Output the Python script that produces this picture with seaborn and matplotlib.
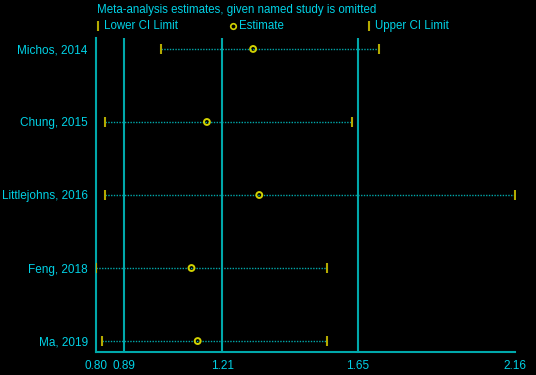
import matplotlib
matplotlib.use("Agg")
import numpy as np
import pandas as pd
import seaborn as sns
from matplotlib import pyplot as plt
from matplotlib.lines import Line2D

# DATA
studies = ["Michos, 2014", "Chung, 2015", "Littlejohns, 2016", "Feng, 2018", "Ma, 2019"]
lower = [1.01, 0.83, 0.83, 0.80, 0.82]
estimate = [1.31, 1.16, 1.33, 1.11, 1.13]
upper = [1.72, 1.63, 2.16, 1.55, 1.55]
ref_lines = [0.89, 1.21, 1.65]
xticks = [0.80, 0.89, 1.21, 1.65, 2.16]

CYAN = "#00d2e6"
TEAL = "#00a8aa"
YELLOW = "#d2d200"
OLIVE = "#b4aa00"


def main():
    df = pd.DataFrame({"study": studies, "lower": lower, "estimate": estimate, "upper": upper})
    df["pos"] = np.arange(len(df))

    sns.set_style("dark")
    plt.rcParams["font.family"] = ["Liberation Sans", "DejaVu Sans"]

    fig = plt.figure(figsize=(5.36, 3.75), dpi=100, facecolor="black")
    ax = fig.add_axes([96 / 536, 23 / 375, 419 / 536, 314 / 375])
    ax.set_facecolor("black")

    # reference lines (pooled lower / estimate / upper)
    for v in ref_lines:
        ax.axvline(v, color=TEAL, lw=1.5, zorder=1)

    # dotted CI lines
    ax.hlines(df["pos"], df["lower"], df["upper"], color=TEAL, lw=1,
              linestyle=(0, (1, 1)), zorder=2)

    sns.scatterplot(data=df, x="lower", y="pos", marker="|", s=45, color=OLIVE,
                    linewidth=1.5, ax=ax, zorder=3)
    sns.scatterplot(data=df, x="upper", y="pos", marker="|", s=45, color=OLIVE,
                    linewidth=1.5, ax=ax, zorder=3)
    sns.scatterplot(data=df, x="estimate", y="pos", marker="o", s=18,
                    facecolor="none", edgecolor=YELLOW, linewidth=1.4, ax=ax, zorder=4)

    ax.set_xlim(0.80, 2.16)
    ax.set_ylim(len(df) - 1 + 0.15, -0.15)
    ax.set_xticks(xticks)
    ax.set_xticklabels([f"{t:.2f}" for t in xticks])
    ax.set_yticks(df["pos"])
    ax.set_yticklabels(df["study"])
    ax.set_xlabel("")
    ax.set_ylabel("")
    ax.grid(False)

    ax.tick_params(axis="x", direction="in", length=4, width=1.5, color=TEAL,
                   labelcolor=CYAN, labelsize=8.5, pad=6)
    ax.tick_params(axis="y", length=0, labelcolor=CYAN, labelsize=8.5, pad=6)

    for side in ["top", "right"]:
        ax.spines[side].set_visible(False)
    for side in ["left", "bottom"]:
        ax.spines[side].set_visible(True)
        ax.spines[side].set_color(TEAL)
        ax.spines[side].set_linewidth(1.5)

    # TITLE + LEGEND ROW
    fig.text(97 / 536, 1 - 10 / 375, "Meta-analysis estimates, given named study is omitted",
             color=CYAN, fontsize=8.3, va="center", ha="left")
    ly = 1 - 26 / 375
    for mx, marker, label in [(98, "|", "Lower CI Limit"), (233, "o", "Estimate"),
                              (369, "|", "Upper CI Limit")]:
        if marker == "o":
            fig.add_artist(Line2D([mx / 536], [ly], marker="o", markersize=4,
                                  markerfacecolor="none", markeredgecolor=YELLOW,
                                  markeredgewidth=1.2, linestyle="none"))
        else:
            fig.add_artist(Line2D([mx / 536], [ly], marker="|", markersize=7,
                                  color=OLIVE, markeredgewidth=1.5, linestyle="none"))
        fig.text((mx + 6) / 536, ly, label, color=CYAN, fontsize=8.3, va="center", ha="left")

    fig.savefig("out.png", dpi=100, facecolor="black")


if __name__ == "__main__":
    main()
